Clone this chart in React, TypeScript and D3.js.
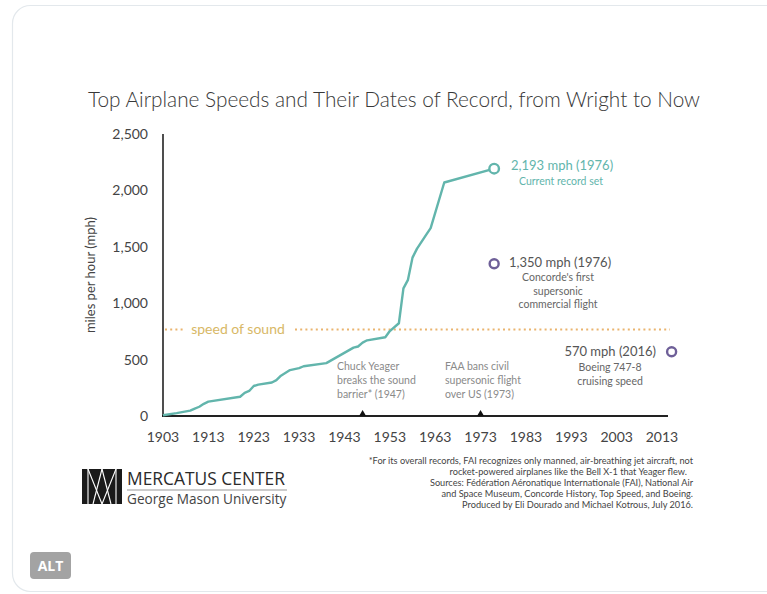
import React from 'react'
import * as d3 from 'd3'

// record speeds (year, mph)
const recordYears = [1903, 1906, 1909, 1910, 1911, 1912, 1913, 1920, 1921, 1922, 1923, 1924, 1927, 1928, 1929, 1931, 1933, 1934, 1939, 1945, 1946, 1947, 1948, 1952, 1953, 1955, 1956, 1957, 1958, 1959, 1961, 1962, 1965, 1976]
const recordSpeeds = [7, 26, 48, 66, 82, 108, 127, 171, 205, 222, 266, 278, 297, 318, 357, 407, 424, 441, 469, 606, 616, 650, 671, 698, 753, 822, 1132, 1207, 1404, 1484, 1606, 1665, 2070, 2193]

const xTicks = [1903, 1913, 1923, 1933, 1943, 1953, 1963, 1973, 1983, 1993, 2003, 2013]
const yTicks = [0, 500, 1000, 1500, 2000, 2500]
const soundSpeed = 767
const eventYears = [1947, 1973]
const otherYears = [1976, 2016]
const otherSpeeds = [1350, 570]

const footnote = [
  '*For its overall records, FAI recognizes only manned, air-breathing jet aircraft, not',
  'rocket-powered airplanes like the Bell X-1 that Yeager flew.',
  'Sources: Fédération Aéronatique Internationale (FAI), National Air',
  'and Space Museum, Concorde History, Top Speed, and Boeing.',
  'Produced by Eli Dourado and Michael Kotrous, July 2016.'
]

const TEAL = '#62b5ac'
const PURPLE = '#6e5f98'
const GREY = '#8a8a8a'
const FONT = 'Lato, "Open Sans", sans-serif'

export default function App () {
  const x = d3.scaleLinear().domain([1903, 2013]).range([163, 662])
  const y = d3.scaleLinear().domain([0, 2500]).range([416, 134])

  const line = d3.line<number>()
    .x((d, i) => x(recordYears[i]))
    .y(d => y(d))

  const last = recordSpeeds.length - 1

  return (
    <svg width={767} height={594} style={{ position: 'absolute', left: 0, top: 0 }} fontFamily={FONT}>
      <rect x={0} y={0} width={767} height={594} fill="#fff" />
      <rect x={12.5} y={5.5} width={790} height={586} rx={18} fill="#fff" stroke="#e3e8ec" strokeWidth={1.2} />

      <text x={394} y={107} textAnchor="middle" fontSize={20.8} fill="#383838" fontWeight={300}>
        Top Airplane Speeds and Their Dates of Record, from Wright to Now
      </text>

      {/* y axis */}
      <line x1={163} x2={163} y1={y(2500)} y2={y(0)} stroke="#222" strokeWidth={1.6} />
      {yTicks.map(t => (
        <text key={t} x={148} y={y(t) + 5} textAnchor="end" fontSize={14} fill="#444">
          {d3.format(',')(t)}
        </text>
      ))}
      <text transform={`translate(95,${y(1250)}) rotate(-90)`} textAnchor="middle" fontSize={13} fill="#444">
        miles per hour (mph)
      </text>

      {/* x axis */}
      <line x1={162} x2={668} y1={y(0)} y2={y(0)} stroke="#222" strokeWidth={1.8} />
      {xTicks.map(t => (
        <text key={t} x={x(t)} y={442} textAnchor="middle" fontSize={14} fill="#444">{t}</text>
      ))}
      {eventYears.map(t => (
        <path key={t} d={`M${x(t) - 3.5},${y(0)} L${x(t)},${y(0) - 6} L${x(t) + 3.5},${y(0)} Z`} fill="#111" />
      ))}

      {/* speed of sound */}
      <line x1={165} x2={670} y1={y(soundSpeed)} y2={y(soundSpeed)} stroke="#eab46e" strokeWidth={2} strokeDasharray="2 3.2" />
      <rect x={185} y={y(soundSpeed) - 9} width={107} height={17} fill="#fff" />
      <text x={238} y={y(soundSpeed) + 5} textAnchor="middle" fontSize={14} fill="#d8b866">speed of sound</text>

      {/* record line */}
      <path d={line(recordSpeeds) || ''} fill="none" stroke={TEAL} strokeWidth={2.4} strokeLinejoin="round" />
      <circle cx={x(recordYears[last])} cy={y(recordSpeeds[last])} r={4.8} fill="#fff" stroke={TEAL} strokeWidth={2.4} />
      <text x={511} y={170} fontSize={13} fill={TEAL}>2,193 mph (1976)</text>
      <text x={561} y={185} textAnchor="middle" fontSize={10.5} fill={TEAL}>Current record set</text>

      {/* other points */}
      {otherYears.map((yr, i) => (
        <circle key={yr} cx={x(yr) - (i === 1 ? 4 : 0)} cy={y(otherSpeeds[i])} r={4.5} fill="#fff" stroke={PURPLE} strokeWidth={2.4} />
      ))}
      <text x={509} y={267} fontSize={13} fill="#555">1,350 mph (1976)</text>
      <text x={558} y={281} textAnchor="middle" fontSize={10.5} fill="#666">Concorde's first</text>
      <text x={558} y={295} textAnchor="middle" fontSize={10.5} fill="#666">supersonic</text>
      <text x={558} y={308} textAnchor="middle" fontSize={10.5} fill="#666">commercial flight</text>

      <text x={656} y={356} textAnchor="end" fontSize={13} fill="#555">570 mph (2016)</text>
      <text x={610} y={371} textAnchor="middle" fontSize={10.5} fill="#666">Boeing 747-8</text>
      <text x={610} y={385} textAnchor="middle" fontSize={10.5} fill="#666">cruising speed</text>

      {['Chuck Yeager', 'breaks the sound', 'barrier* (1947)'].map((s, i) => (
        <text key={s} x={337} y={370 + i * 14} fontSize={10.5} fill={GREY}>{s}</text>
      ))}
      {['FAA bans civil', 'supersonic flight', 'over US (1973)'].map((s, i) => (
        <text key={s} x={445} y={370 + i * 14} fontSize={10.5} fill={GREY}>{s}</text>
      ))}

      {/* footnote */}
      {footnote.map((s, i) => (
        <text key={i} x={i === 1 ? 687 : 693} y={464 + i * 11} textAnchor="end" fontSize={9.2} fill="#444">{s}</text>
      ))}

      {/* logo */}
      <g>
        <rect x={82} y={469} width={40} height={35} fill="#1a1a1a" />
        <g stroke="#fff" strokeWidth={1.1}>
          <line x1={88} y1={469} x2={88} y2={504} />
          <line x1={116} y1={469} x2={116} y2={504} />
          <line x1={88} y1={469} x2={102} y2={504} />
          <line x1={116} y1={469} x2={102} y2={504} />
          <line x1={102} y1={469} x2={93} y2={504} />
          <line x1={102} y1={469} x2={111} y2={504} />
        </g>
        <text x={127} y={485} fontSize={17.4} fill="#2a2a2a" fontFamily='"Open Sans", sans-serif'>MERCATUS CENTER</text>
        <line x1={127} x2={287} y1={490} y2={490} stroke="#999" strokeWidth={1.2} />
        <text x={127} y={504} fontSize={13.6} fill="#444" fontFamily='"Open Sans", sans-serif'>George Mason University</text>
      </g>

      {/* ALT badge */}
      <rect x={30} y={552} width={41} height={27} rx={4} fill="#a3a3a3" />
      <text x={50.5} y={571} textAnchor="middle" fontSize={14} fontWeight={700} fill="#fff" fontFamily='"Open Sans", sans-serif'>ALT</text>
    </svg>
  )
}
